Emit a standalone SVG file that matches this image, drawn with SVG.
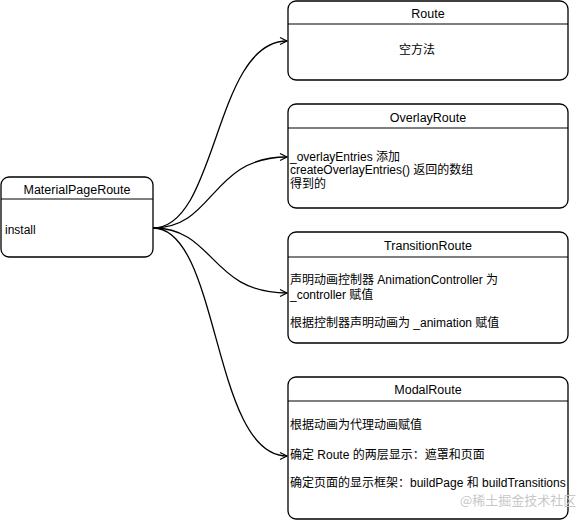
<svg xmlns="http://www.w3.org/2000/svg" width="585" height="521" viewBox="0 0 585 521">
<defs>
<style>
.box{fill:#fff;stroke:#000;stroke-width:1.3}
.sep{stroke:#000;stroke-width:1.2}
.t{font-family:"Liberation Sans","Noto Sans CJK SC",sans-serif;font-size:12px;fill:#000}
.title{text-anchor:middle;font-size:12.5px}
.edge{fill:none;stroke:#000;stroke-width:1.3}
.wm{font-family:"Noto Sans CJK SC",sans-serif;font-size:13px;fill:#c8c8c8}
</style>
<marker id="arr" markerWidth="10" markerHeight="10" refX="8" refY="5" orient="auto" markerUnits="userSpaceOnUse">
<path d="M1,1.5 L8,5 L1,8.5" fill="none" stroke="#000" stroke-width="1.2"/>
</marker>
</defs>
<rect width="585" height="521" fill="#fff"/>
<g id="connectors">
<path class="edge" marker-end="url(#arr)" d="M153,228 C218,228 214,41 287,41"/>
<path class="edge" marker-end="url(#arr)" d="M153,228 C215,228 210,157 287,157"/>
<path class="edge" marker-end="url(#arr)" d="M153,228 C215,228 210,293 287,293"/>
<path class="edge" marker-end="url(#arr)" d="M153,228 C220,228 212,456 287,456"/>
</g>
<g id="MaterialPageRoute">
<rect class="box" x="1" y="177" width="152" height="80" rx="8"/>
<line class="sep" x1="1" y1="199" x2="153" y2="199"/>
<text class="t title" x="77" y="194">MaterialPageRoute</text>
<text class="t" x="5" y="234">install</text>
</g>
<g id="Route">
<rect class="box" x="288" y="1" width="280" height="79" rx="8"/>
<line class="sep" x1="288" y1="24" x2="568" y2="24"/>
<text class="t title" x="428" y="18">Route</text>
<text class="t" x="417" y="54" text-anchor="middle">空方法</text>
</g>
<g id="OverlayRoute">
<rect class="box" x="288" y="104" width="280" height="104" rx="8"/>
<line class="sep" x1="288" y1="128" x2="568" y2="128"/>
<text class="t title" x="428" y="122">OverlayRoute</text>
<text class="t" x="290" y="161">_overlayEntries 添加</text>
<text class="t" x="290" y="174">createOverlayEntries() 返回的数组</text>
<text class="t" x="290" y="188">得到的</text>
</g>
<g id="TransitionRoute">
<rect class="box" x="288" y="232" width="280" height="111" rx="8"/>
<line class="sep" x1="288" y1="257" x2="568" y2="257"/>
<text class="t title" x="428" y="250">TransitionRoute</text>
<text class="t" x="290" y="284">声明动画控制器 AnimationController  为</text>
<text class="t" x="290" y="299">_controller 赋值</text>
<text class="t" x="290" y="327">根据控制器声明动画为 _animation 赋值</text>
</g>
<g id="ModalRoute">
<rect class="box" x="288" y="377" width="280" height="142" rx="8"/>
<line class="sep" x1="288" y1="401" x2="568" y2="401"/>
<text class="t title" x="428" y="394">ModalRoute</text>
<text class="t" x="290" y="429">根据动画为代理动画赋值</text>
<text class="t" x="290" y="459">确定 Route 的两层显示：遮罩和页面</text>
<text class="t" x="290" y="487">确定页面的显示框架：buildPage 和 buildTransitions</text>
</g>
<text class="wm" x="460" y="505">@稀土掘金技术社区</text>
</svg>
